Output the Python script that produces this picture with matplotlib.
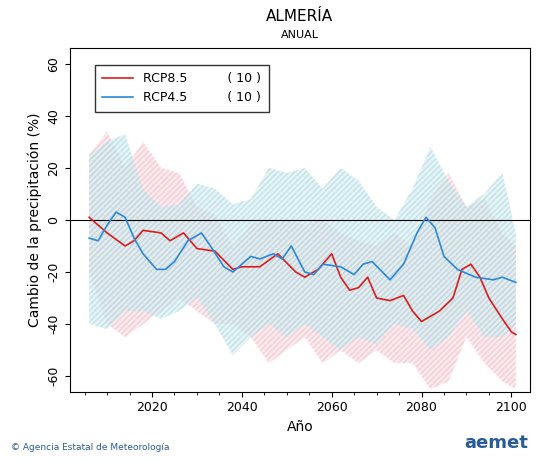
import numpy as np
import matplotlib
matplotlib.use("Agg")
import matplotlib.pyplot as plt

r85_x = [2006,2010,2014,2016,2018,2022,2024,2027,2030,2034,2038,2040,2044,2048,2052,2054,2057,2060,2062,2064,2066,2068,2070,2073,2076,2078,2080,2084,2087,2089,2091,2093,2095,2098,2100,2101]
r85_y = [1,-5,-10,-8,-4,-5,-8,-5,-11,-12,-19,-18,-18,-13,-20,-22,-19,-13,-22,-27,-26,-22,-30,-31,-29,-35,-39,-35,-30,-19,-17,-22,-30,-38,-43,-44]
r45_x = [2006,2008,2010,2012,2014,2016,2018,2021,2023,2025,2028,2031,2033,2036,2038,2040,2042,2044,2047,2049,2051,2054,2056,2058,2062,2065,2067,2069,2073,2076,2079,2081,2083,2085,2088,2092,2096,2098,2101]
r45_y = [-7,-8,-2,3,1,-7,-13,-19,-19,-16,-8,-5,-10,-18,-20,-17,-14,-15,-13,-15,-10,-20,-21,-17,-18,-21,-17,-16,-23,-17,-5,1,-3,-14,-19,-22,-23,-22,-24]
band_x = [2006,2010,2014,2018,2022,2026,2030,2034,2038,2042,2046,2050,2054,2058,2062,2066,2070,2074,2078,2082,2086,2090,2094,2098,2101]
r85_up = [25,34,20,30,20,18,5,2,-10,-2,0,0,-2,0,-5,-8,-10,-5,-10,8,18,5,8,-5,-10]
r85_lo = [-20,-40,-45,-40,-35,-30,-35,-40,-40,-45,-55,-50,-45,-55,-50,-55,-50,-55,-55,-65,-62,-45,-55,-62,-65]
r45_up = [25,30,33,12,5,6,14,12,6,8,20,18,20,12,20,15,5,0,12,28,15,5,10,18,-5]
r45_lo = [-40,-42,-35,-35,-38,-35,-30,-40,-52,-45,-40,-45,-40,-45,-50,-45,-48,-40,-42,-50,-45,-35,-45,-45,-40]

fig = plt.figure(figsize=(5.5,4.62), dpi=100)
ax = fig.add_axes([0.127,0.152,0.837,0.744])
bx = np.array(band_x)
for up, lo, fc, ec in [(r85_up, r85_lo, '#fbdde3', '#f3b0bd'), (r45_up, r45_lo, '#d3ecf1', '#a3d5dd')]:
    ax.fill(np.r_[bx, bx[::-1]], np.r_[up, lo[::-1]], facecolor=fc, edgecolor=ec, hatch='//////', lw=0, alpha=0.55)
ax.axhline(0, color='black', lw=0.8)
ax.plot(r85_x, r85_y, color='#dd1c1c', lw=1.2, label='RCP8.5')
ax.plot(r45_x, r45_y, color='#2a88dd', lw=1.2, label='RCP4.5')
ax.set_xlim(2001.7, 2104.2)
ax.set_ylim(-66, 66)
ax.set_yticks(range(-60, 61, 20))
ax.set_yticklabels([str(v) for v in range(-60, 61, 20)], rotation=90, va='center')
ax.set_xticks(range(2020, 2101, 20))
ax.set_xticks(range(2005, 2101, 5), minor=True)
ax.tick_params(labelsize=9)
ax.set_xlabel('Año', fontsize=10)
ax.set_ylabel('Cambio de la precipitación (%)', fontsize=10)
fig.text(0.545, 0.955, 'ALMERÍA', ha='center', fontsize=11)
fig.text(0.545, 0.917, 'ANUAL', ha='center', fontsize=8)
leg = ax.legend(loc='upper left', bbox_to_anchor=(0.04, 0.97), frameon=True, fancybox=False,
                edgecolor='black', fontsize=9, handlelength=2.5, borderpad=0.6)
for t in leg.get_texts():
    t.set_text(t.get_text() + '          ( 10 )')
fig.text(0.02, 0.025, '© Agencia Estatal de Meteorología', fontsize=6.5, color='#2a5a9a')
fig.text(0.96, 0.03, 'aemet', fontsize=13, fontweight='bold', color='#2a5a9a', ha='right')
fig.savefig('out.png')
